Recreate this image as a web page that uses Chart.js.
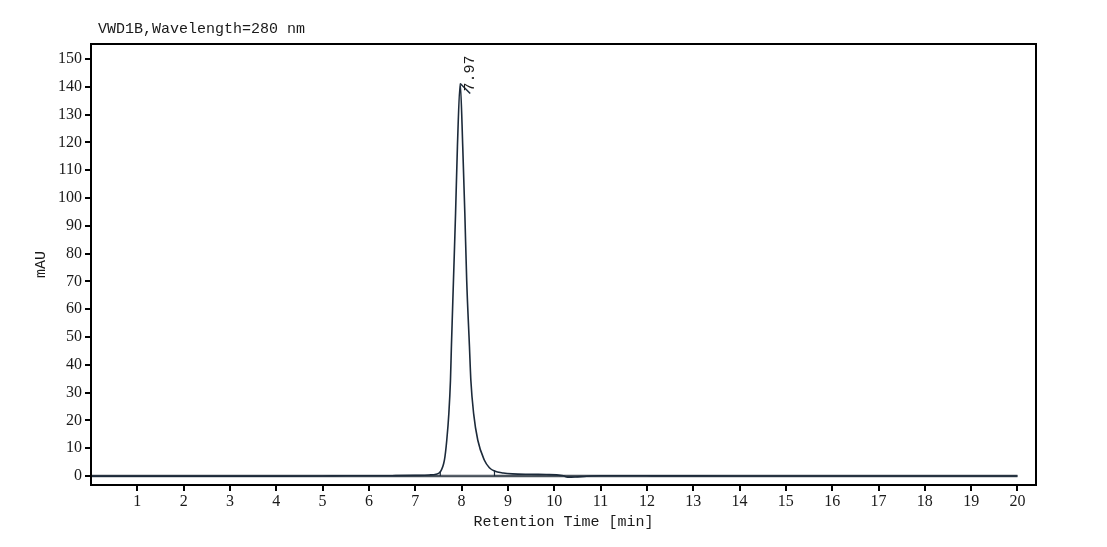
<!DOCTYPE html>
<html>
<head>
<meta charset="utf-8">
<title>VWD1B 280 nm</title>
<script src="https://cdn.jsdelivr.net/npm/chart.js@4.4.0/dist/chart.umd.min.js"></script>
<style>
    html, body { margin: 0; padding: 0; background: #ffffff; }
    #wrap { width: 1107px; height: 547px; position: relative; }
</style>
</head>
<body>
<div id="wrap"><canvas id="chrom"></canvas></div>
<script>
// 色谱数据
const retentionTimes = [0, 1, 2, 3, 4, 5, 5.5, 6, 6.5, 7, 7.3, 7.45, 7.54, 7.63, 7.68, 7.725, 7.76, 7.78, 7.825, 7.87, 7.91, 7.97,
    8.025, 8.07, 8.11, 8.17, 8.2, 8.26, 8.35, 8.49, 8.6, 8.71, 8.9, 9.1, 9.5, 9.83, 10.05, 10.2, 10.29, 10.45, 10.7, 11, 12, 14, 16, 18, 20];
const signalMAU = [0, 0, 0, 0, 0, 0.05, 0.15, 0.1, 0.15, 0.25, 0.4, 0.7, 1.5, 5.8, 12.9, 22.5, 34.5, 46.5, 70.5, 94.5, 118.5, 141.2,
    118.5, 94.5, 70.5, 46.5, 34.5, 22.5, 12.9, 5.8, 3.0, 1.8, 1.1, 0.8, 0.65, 0.55, 0.45, 0.1, -0.36, -0.3, -0.05, 0.1, 0.1, 0.05, 0.05, 0.05, 0.05];
const zeroLine = [[0, 0], [20, 0]];
const peakBaseline = [[7.54, 0.2], [8.71, 0.2]];
const peakApex = [7.97, 141.2];
const peakLabel = '7.97';
const xTickValues = [1, 2, 3, 4, 5, 6, 7, 8, 9, 10, 11, 12, 13, 14, 15, 16, 17, 18, 19, 20];
const yTickValues = [0, 10, 20, 30, 40, 50, 60, 70, 80, 90, 100, 110, 120, 130, 140, 150];
const chartTitle = 'VWD1B,Wavelength=280 nm';

const monoFont = "'Liberation Mono', 'DejaVu Sans Mono', monospace";
const serifFont = "'Liberation Serif', 'DejaVu Serif', serif";

// 自定义绘制: 边框, 标题, 峰标注
const decorPlugin = {
    id: 'decor',
    afterDraw(chart) {
        const ctx = chart.ctx;
        const a = chart.chartArea;
        const xs = chart.scales.x, ys = chart.scales.y;
        ctx.save();
        // 边框
        ctx.strokeStyle = '#000';
        ctx.lineWidth = 2;
        ctx.strokeRect(a.left, a.top, a.right - a.left, a.bottom - a.top);
        // 标题
        ctx.fillStyle = '#1a1a1a';
        ctx.font = '15px ' + monoFont;
        ctx.textBaseline = 'alphabetic';
        ctx.textAlign = 'left';
        ctx.fillText(chartTitle, 98, 33);
        // 峰顶标注
        const px = xs.getPixelForValue(peakApex[0]);
        const py = ys.getPixelForValue(peakApex[1]);
        ctx.strokeStyle = '#1c2a3a';
        ctx.lineWidth = 1.5;
        ctx.beginPath();
        ctx.moveTo(px, py);
        ctx.lineTo(px + 10, py + 10);
        ctx.stroke();
        ctx.translate(px + 10, py + 9);
        ctx.rotate(-Math.PI / 2);
        ctx.textAlign = 'left';
        ctx.textBaseline = 'middle';
        ctx.fillText(peakLabel, 1, 0);
        ctx.restore();
        // 积分基线端点标记
        ctx.save();
        ctx.strokeStyle = '#1c2a3a';
        ctx.lineWidth = 1.2;
        peakBaseline.forEach(p => {
            const i = retentionTimes.indexOf(p[0]);
            const tx = xs.getPixelForValue(p[0]);
            ctx.beginPath();
            ctx.moveTo(tx, ys.getPixelForValue(0));
            ctx.lineTo(tx, ys.getPixelForValue(signalMAU[i]) - 1);
            ctx.stroke();
        });
        ctx.restore();
    }
};

const ctx = document.getElementById('chrom').getContext('2d');
new Chart(ctx, {
    type: 'scatter',
    data: {
        datasets: [
            {
                data: zeroLine.map(p => ({ x: p[0], y: p[1] })),
                showLine: true,
                borderColor: '#48515a',
                borderWidth: 2.5,
                pointRadius: 0,
                order: 3
            },
            {
                data: peakBaseline.map(p => ({ x: p[0], y: p[1] })),
                showLine: true,
                borderColor: '#5a636c',
                borderWidth: 1,
                pointRadius: 0,
                order: 2
            },
            {
                data: retentionTimes.map((t, i) => ({ x: t, y: signalMAU[i] })),
                showLine: true,
                borderColor: '#1c2a3a',
                borderWidth: 1.6,
                pointRadius: 0,
                cubicInterpolationMode: 'monotone',
                order: 1
            }
        ]
    },
    options: {
        responsive: true,
        maintainAspectRatio: false,
        animation: false,
        layout: { padding: { left: 0, right: 71, top: 44, bottom: 0 } },
        plugins: {
            legend: { display: false },
            tooltip: { enabled: false }
        },
        scales: {
            x: {
                type: 'linear',
                min: 0,
                max: 20.4,
                afterBuildTicks: s => { s.ticks = xTickValues.map(v => ({ value: v })); },
                afterFit: s => { s.height = 62; },
                border: { display: false },
                grid: { display: true, drawOnChartArea: false, drawTicks: true, tickLength: 6, color: '#000', lineWidth: 2 },
                ticks: { color: '#1a1a1a', font: { family: serifFont, size: 16 }, padding: 1, maxRotation: 0, autoSkip: false },
                title: { display: true, text: 'Retention Time [min]', color: '#1a1a1a', font: { family: monoFont, size: 15 }, padding: { top: 0, bottom: 16 } }
            },
            y: {
                type: 'linear',
                min: -3.2,
                max: 155.4,
                afterBuildTicks: s => { s.ticks = yTickValues.map(v => ({ value: v })); },
                afterFit: s => { s.width = 91; },
                border: { display: false },
                grid: { display: true, drawOnChartArea: false, drawTicks: true, tickLength: 6, color: '#000', lineWidth: 2 },
                ticks: { color: '#1a1a1a', font: { family: serifFont, size: 16 }, padding: 3, autoSkip: false },
                title: { display: true, text: 'mAU', color: '#1a1a1a', font: { family: monoFont, size: 15 }, padding: { top: 32, bottom: 0 } }
            }
        }
    },
    plugins: [decorPlugin]
});
</script>
</body>
</html>
